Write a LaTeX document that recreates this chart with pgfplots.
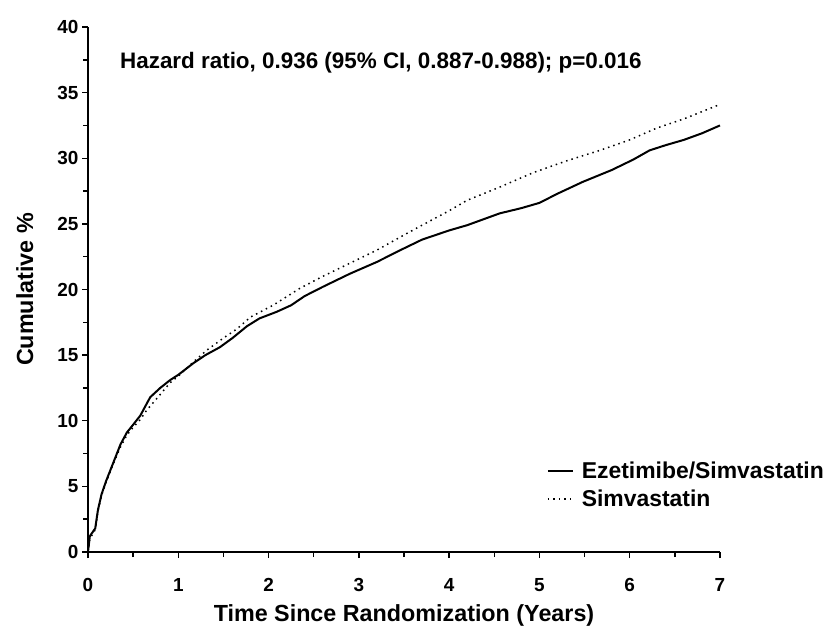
\documentclass[border=0pt]{standalone}
\usepackage{pgfplots}
\pgfplotsset{compat=1.18}
\usepackage{fontspec}
\setmainfont{Liberation Sans}

\pgfplotstableread{
x y
0 0
0.02 1.2
0.08 1.8
0.11 3.2
0.15 4.4
0.2 5.4
0.28 6.8
0.36 8.2
0.43 9.1
0.5 9.7
0.58 10.4
0.65 11.3
0.69 11.8
0.8 12.5
0.91 13.1
1.0 13.5
1.17 14.4
1.3 15.0
1.46 15.6
1.6 16.3
1.76 17.2
1.9 17.8
2.09 18.3
2.25 18.8
2.4 19.5
2.6 20.2
2.9 21.2
3.2 22.1
3.46 23.0
3.7 23.8
4.0 24.5
4.2 24.9
4.56 25.8
4.8 26.2
5.0 26.6
5.2 27.3
5.48 28.2
5.8 29.1
6.04 29.9
6.22 30.6
6.4 31.0
6.6 31.4
6.8 31.9
7.0 32.5
}\ezesim

\pgfplotstableread{
x y
0 0
0.02 1.0
0.08 1.7
0.11 3.1
0.15 4.3
0.2 5.3
0.28 6.7
0.36 8.0
0.43 8.9
0.5 9.5
0.58 10.1
0.65 10.8
0.8 12.0
0.91 12.9
1.0 13.4
1.17 14.5
1.32 15.4
1.5 16.3
1.65 17.0
1.8 17.9
2.05 18.8
2.35 20.1
2.6 21.0
2.9 22.0
3.2 23.0
3.46 24.0
3.7 24.9
4.0 26.0
4.2 26.8
4.56 27.8
4.93 28.9
5.3 29.8
5.67 30.6
6.0 31.4
6.3 32.3
6.6 33.0
7.0 34.1
}\simva

\begin{document}
\begin{tikzpicture}
  \begin{axis}[
      at={(88bp,76bp)}, anchor=south west,
      scale only axis,
      width=632bp, height=525bp,
      xmin=0, xmax=7, ymin=0, ymax=40,
      axis lines=left,
      axis line style={-, line width=1.6bp},
      tick align=outside,
      tick style={black, line width=1.4bp},
      major tick length=6bp,
      minor tick length=5bp,
      xtick={0,1,...,7}, ytick={0,5,...,40},
      minor tick num=1,
      clip=false,
      /pgf/number format/assume math mode=true,
      ticklabel style={font=\bfseries\fontsize{19}{19}\selectfont},
      xticklabel style={yshift=-17bp},
      label style={font=\bfseries\fontsize{23.4}{23.4}\selectfont},
      xlabel={Time Since Randomization (Years)},
      ylabel={Cumulative \%},
      xlabel style={at={(axis description cs:0.5,-0.12)}, anchor=center},
      ylabel style={at={(axis description cs:-0.1,0.5)}, anchor=center},
      legend style={at={(axis cs:5.08,5.1)}, anchor=west, draw=none, fill=none,
        inner sep=0pt, row sep=6bp,
        /tikz/every odd column/.append style={column sep=6bp},
        font=\bfseries\fontsize{23}{23}\selectfont},
      legend cell align=left,
      legend image code/.code={\draw[#1] (0bp,0bp) -- (25bp,0bp);},
    ]
    \addplot[black, line width=2bp] table[x=x, y=y] {\ezesim};
    \addlegendentry{Ezetimibe/Simvastatin}
    \addplot[black, line width=1.5bp, dash pattern=on 1.5bp off 4bp] table[x=x, y=y] {\simva};
    \addlegendentry{Simvastatin}
    \node[anchor=west, font=\bfseries\fontsize{22.5}{22.5}\selectfont, inner sep=0pt]
      at (axis cs:0.354,37.3) {Hazard ratio, 0.936 (95\% CI, 0.887-0.988); p=0.016};
  \end{axis}
  \pgfresetboundingbox
  \path (0,0) rectangle (825bp,628bp);
\end{tikzpicture}
\end{document}
